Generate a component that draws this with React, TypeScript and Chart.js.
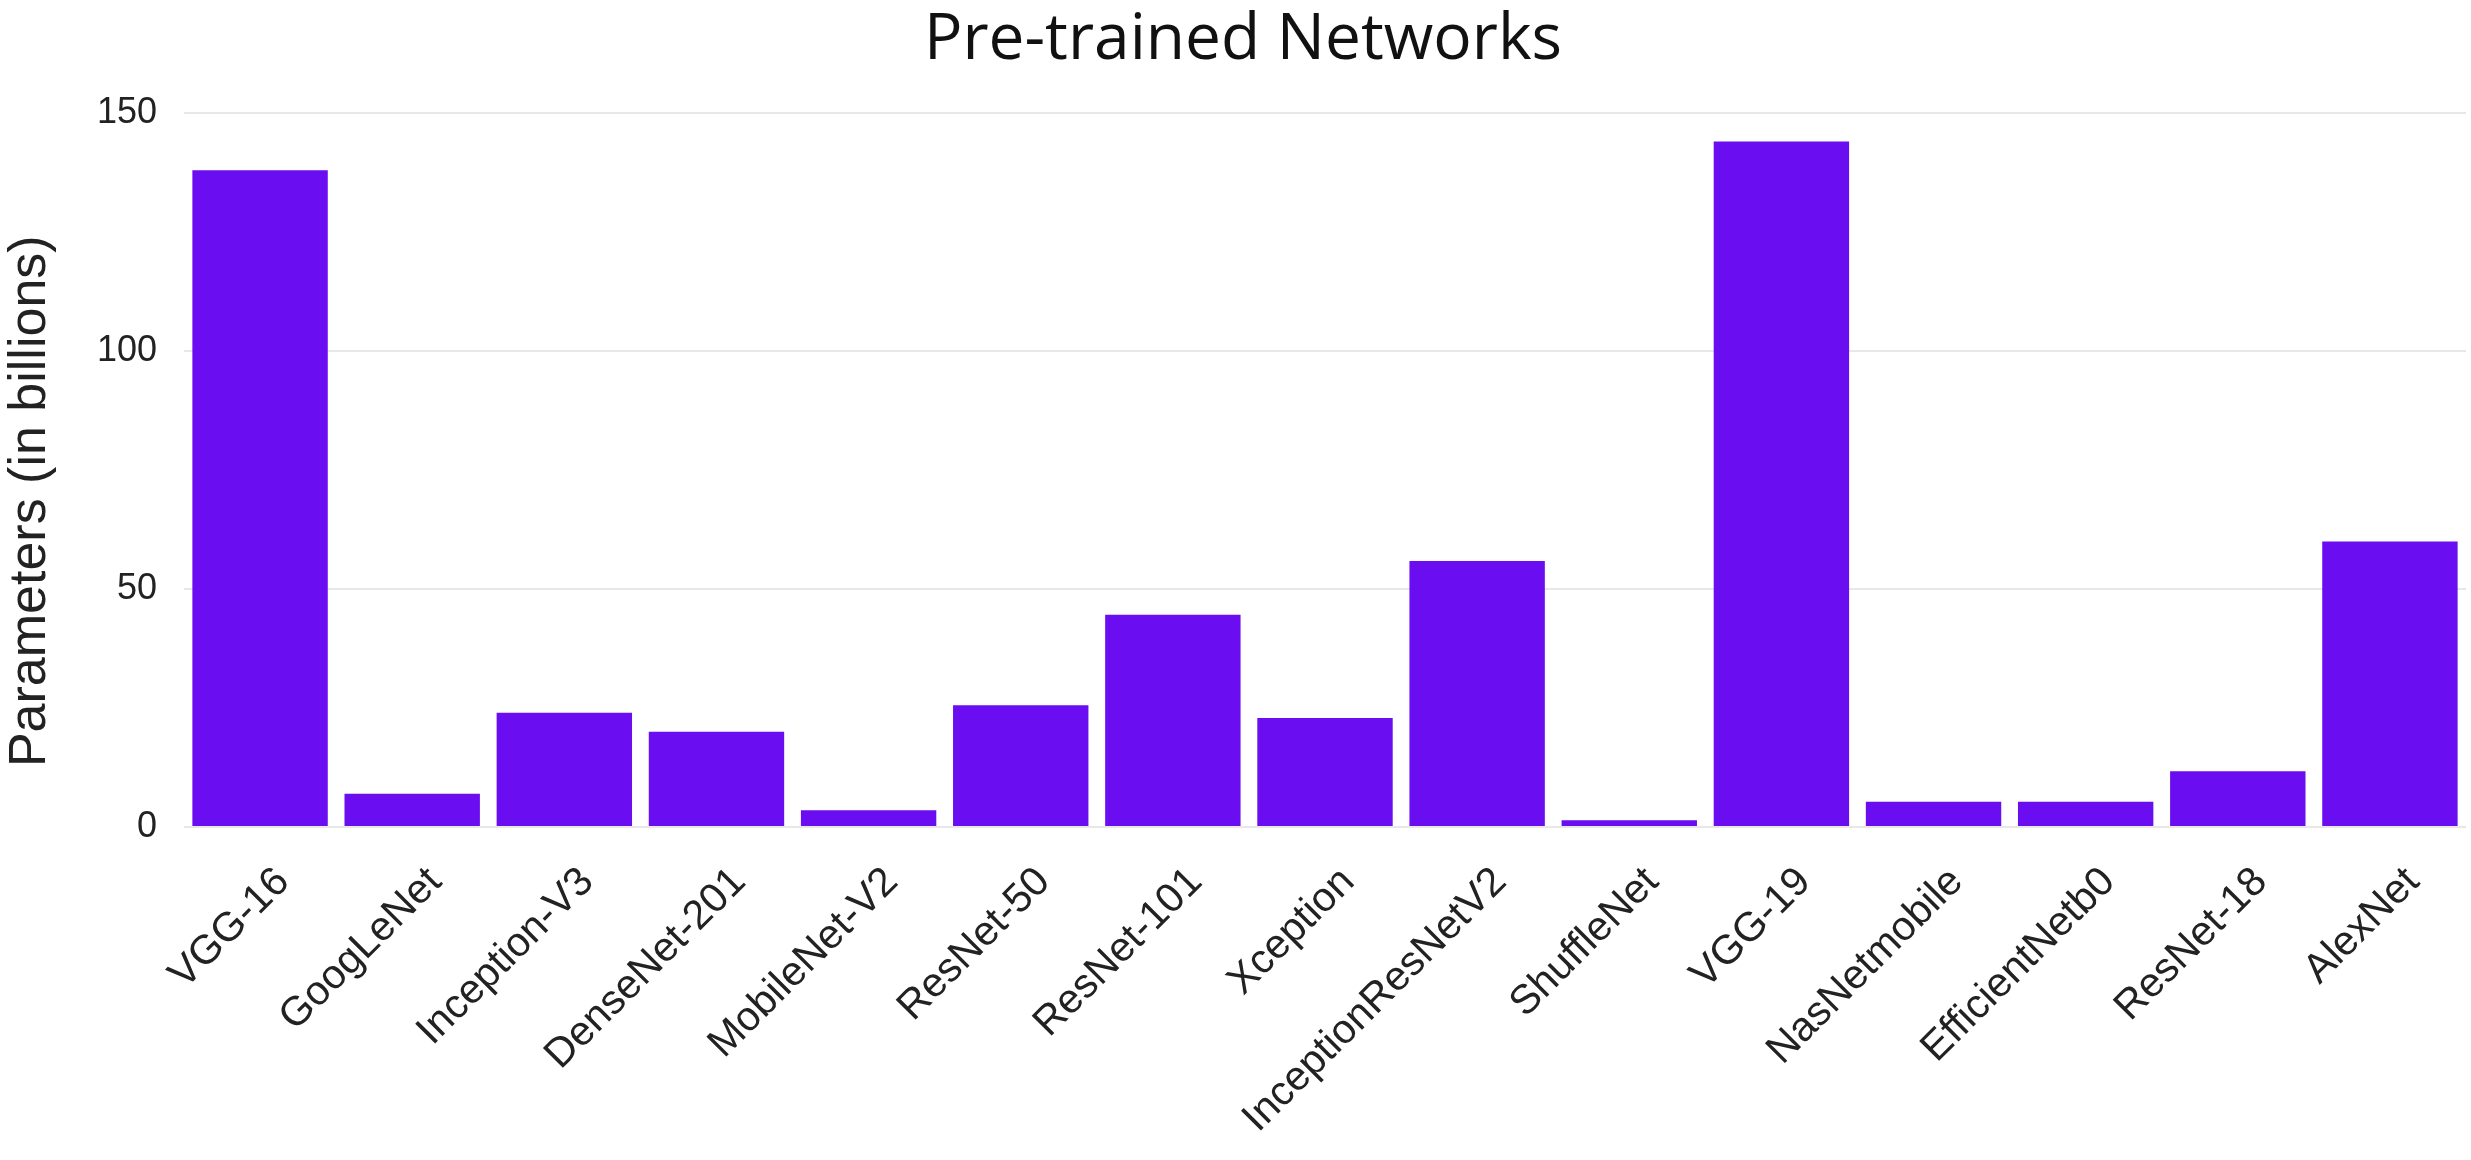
import React, { useEffect, useRef } from "react";
import { Chart, registerables } from "chart.js";

Chart.register(...registerables);

const categories: string[] = [
  "VGG-16",
  "GoogLeNet",
  "Inception-V3",
  "DenseNet-201",
  "MobileNet-V2",
  "ResNet-50",
  "ResNet-101",
  "Xception",
  "InceptionResNetV2",
  "ShuffleNet",
  "VGG-19",
  "NasNetmobile",
  "EfficientNetb0",
  "ResNet-18",
  "AlexNet",
];

const parameters: number[] = [138, 7, 24, 20, 3.5, 25.6, 44.6, 22.9, 55.9, 1.4, 144, 5.3, 5.3, 11.7, 60];

const yTicks: number[] = [0, 50, 100, 150];

const chartTitle = "Pre-trained Networks";
const yAxisTitle = "Parameters (in billions)";

const axisFont = "'Liberation Sans', Arial, sans-serif";
const titleFont = "'Open Sans', 'Noto Sans', sans-serif";

const yTitlePlugin = {
  id: "yTitlePlugin",
  afterDraw(chart: any) {
    const ctx = chart.ctx as CanvasRenderingContext2D;
    const area = chart.chartArea;
    ctx.save();
    ctx.translate(31, (area.top + area.bottom) / 2 + 36);
    ctx.rotate(-Math.PI / 2);
    ctx.font = `52px ${axisFont}`;
    ctx.fillStyle = "#222";
    ctx.textAlign = "center";
    ctx.textBaseline = "middle";
    ctx.fillText(yAxisTitle, 0, 0);
    ctx.restore();
  },
};

export default function App() {
  const canvasRef = useRef<HTMLCanvasElement | null>(null);

  useEffect(() => {
    document.body.style.margin = "0";
    const canvas = canvasRef.current;
    if (!canvas) return;
    const chart = new Chart(canvas, {
      type: "bar",
      data: {
        labels: categories,
        datasets: [
          {
            label: "Parameters",
            data: parameters,
            backgroundColor: "#6a0df0",
            borderWidth: 0,
            barPercentage: 0.89,
            categoryPercentage: 1,
          },
        ],
      },
      options: {
        animation: false,
        responsive: false,
        maintainAspectRatio: false,
        layout: { padding: { top: 0, left: 20, right: 5, bottom: 0 } },
        plugins: {
          legend: { display: false },
          tooltip: { enabled: false },
          title: {
            display: true,
            text: chartTitle,
            color: "#111",
            font: { family: titleFont, size: 64, weight: "500" },
            padding: { top: 2, bottom: 24.7 },
          },
        },
        scales: {
          x: {
            grid: { display: false, drawTicks: false },
            border: { display: false },
            ticks: {
              color: "#222",
              font: { family: axisFont, size: 41 },
              maxRotation: 45,
              minRotation: 45,
              autoSkip: false,
              padding: 31,
              labelOffset: 23,
            },
            afterFit: (scale: any) => {
              scale.height = 333;
            },
          },
          y: {
            min: 0,
            max: 152,
            afterBuildTicks: (scale: any) => {
              scale.ticks = yTicks.map((v) => ({ value: v }));
            },
            grid: { color: "#e8e8e8", lineWidth: 2, drawTicks: false },
            border: { display: false },
            ticks: {
              color: "#222",
              font: { family: axisFont, size: 36 },
              padding: 27,
            },
            afterFit: (scale: any) => {
              scale.width = 164;
            },
          },
        },
      },
      plugins: [yTitlePlugin],
    });
    return () => chart.destroy();
  }, []);

  return (
    <div style={{ width: 2471, height: 1160, background: "#fff" }}>
      <canvas ref={canvasRef} width={2471} height={1160} style={{ display: "block" }} />
    </div>
  );
}
